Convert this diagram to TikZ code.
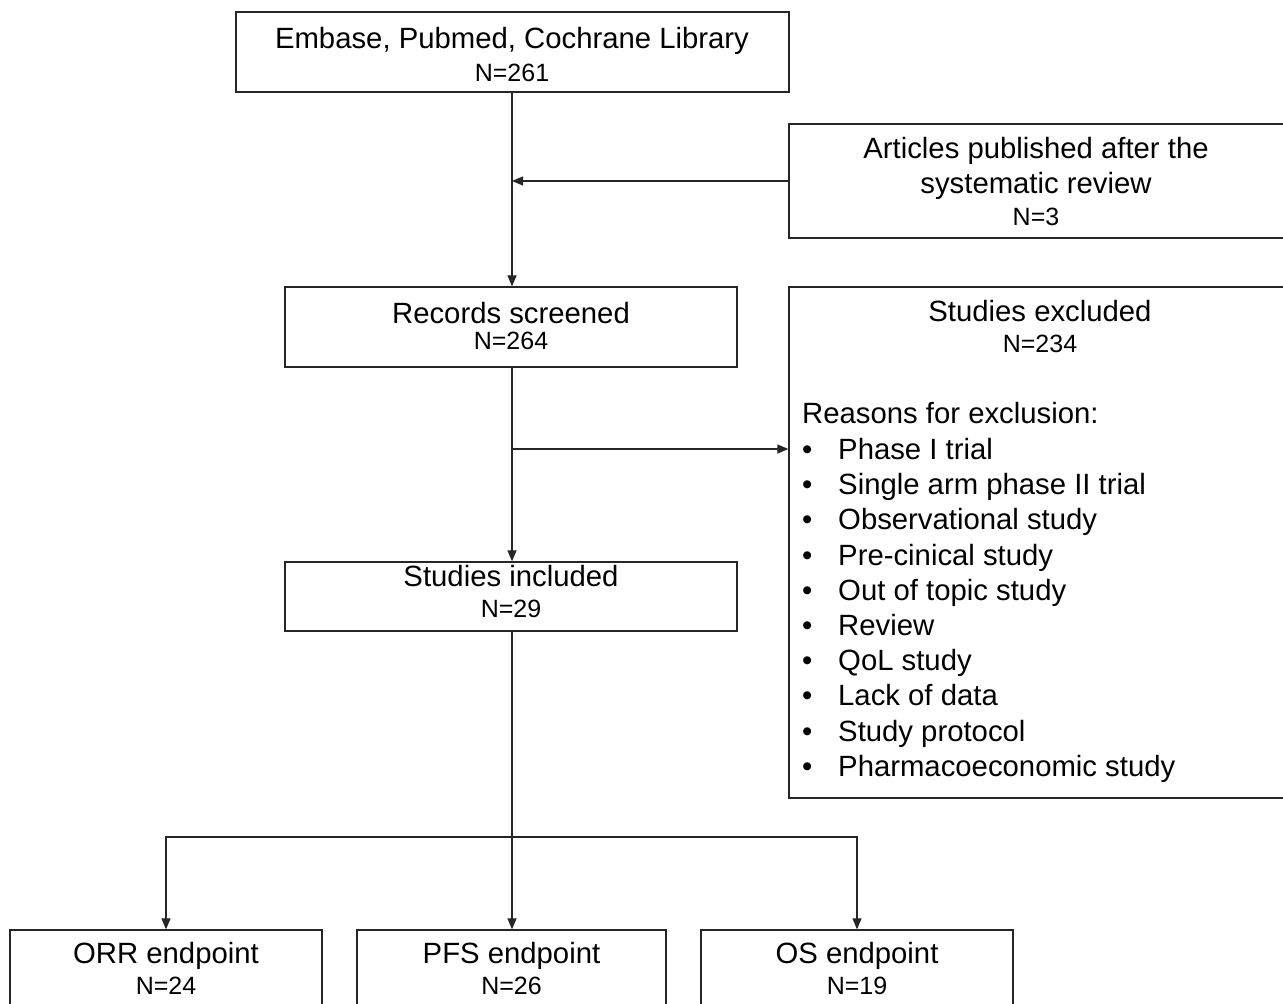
\documentclass[tikz,border=0pt]{standalone}
\usepackage{fontspec}
\setmainfont{Liberation Sans}
\usetikzlibrary{arrows.meta}
\begin{document}
\begin{tikzpicture}[x=1pt,y=-1pt,
  box/.style={draw=black!85,line width=1.3pt,inner sep=0pt},
  big/.style={font=\fontsize{29.3}{35}\selectfont,anchor=base,inner sep=0pt},
  small/.style={font=\fontsize{25}{30}\selectfont,anchor=base,inner sep=0pt},
  item/.style={big,anchor=base west},
  link/.style={draw=black!85,line width=1.2pt},
  arr/.style={link,-{Triangle[length=11pt,width=9pt]}}]
\useasboundingbox (0,0) rectangle (1283,1004);
\clip (0,0) rectangle (1283,1004);

% boxes
\node[box,minimum width=553,minimum height=80]  (db)  at (512.5,52)   {};
\node[box,minimum width=501,minimum height=114] (art) at (1039.5,181) {};
\node[box,minimum width=452,minimum height=80]  (rec) at (511,327)    {};
\node[box,minimum width=501,minimum height=511] (exc) at (1039.5,542.5) {};
\node[box,minimum width=452,minimum height=69]  (inc) at (511,596.5)  {};
\node[box,minimum width=312,minimum height=80]  (orr) at (166,970)    {};
\node[box,minimum width=309,minimum height=80]  (pfs) at (511.5,970)  {};
\node[box,minimum width=312,minimum height=80]  (os)  at (857,970)    {};

% box texts
\node[big]   (dbA)  at (512,48.5)  {Embase, Pubmed, Cochrane Library};
\node[small] (dbB)  at (512,81)    {N=261};
\node[big]   (artA) at (1036,158.5) {Articles published after the};
\node[big]   (artB) at (1036,193.5) {systematic review};
\node[small] (artC) at (1036,225)  {N=3};
\node[big]   (recA) at (511,323.5) {Records screened};
\node[small] (recB) at (511,349)   {N=264};
\node[big]   (excA) at (1040,321.5) {Studies excluded};
\node[small] (excB) at (1040,352)  {N=234};
\node[item]  (excC) at (802,423.5) {Reasons for exclusion:};
\foreach \t [count=\i from 0] in {Phase I trial,Single arm phase II trial,Observational study,Pre-cinical study,Out of topic study,Review,QoL study,Lack of data,Study protocol,Pharmacoeconomic study}{
  \node[item] (b\i) at (802,459.5+35.2*\i) {•};
  \node[item] (r\i) at (838,459.5+35.2*\i) {\t};
}
\node[big]   (incA) at (511,586.5) {Studies included};
\node[small] (incB) at (511,617)   {N=29};
\node[big]   (orrA) at (166,963.5) {ORR endpoint};
\node[small] (orrB) at (166,994)   {N=24};
\node[big]   (pfsA) at (511.5,963.5) {PFS endpoint};
\node[small] (pfsB) at (511.5,994) {N=26};
\node[big]   (osA)  at (857,963.5) {OS endpoint};
\node[small] (osB)  at (857,994)   {N=19};

% connectors
\coordinate (mA) at (512,181);
\coordinate (mB) at (512,449);
\coordinate (mC) at (512,837);
\draw[arr] (db.south -| mA) -- (rec.north -| mA);
\draw[arr] (art.west |- mA) -- (mA);
\draw[arr] (rec.south -| mB) -- (inc.north -| mB);
\draw[arr] (mB) -- (exc.west |- mB);
\draw[arr] (inc.south -| mC) -- (pfs.north -| mC);
\draw[arr] (mC) -| (orr.north);
\draw[arr] (mC) -| (os.north);
\end{tikzpicture}
\end{document}
